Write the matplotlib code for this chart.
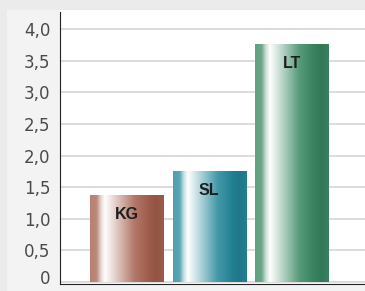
import matplotlib.pyplot as plt
import matplotlib.transforms as mtransforms
import numpy as np
from matplotlib.colors import LinearSegmentedColormap, to_rgb
from matplotlib.patches import Rectangle

categories = ["KG", "SL", "LT"]
values = [1.37, 1.75, 3.76]
base_colors = ["#a5604f", "#24879a", "#3a8963"]
tick_values = [0, 0.5, 1.0, 1.5, 2.0, 2.5, 3.0, 3.5, 4.0]
tick_labels = ["0", "0,5", "1,0", "1,5", "2,0", "2,5", "3,0", "3,5", "4,0"]


def bar_cmap(color):
    base = np.array(to_rgb(color))
    white = np.array([1.0, 1.0, 1.0])
    stops = [
        (0.0, base * 0.8 + white * 0.2),
        (0.09, base * 0.75 + white * 0.25),
        (0.14, base * 0.3 + white * 0.7),
        (0.2, white),
        (0.32, base * 0.25 + white * 0.75),
        (0.6, base * 0.85 + white * 0.15),
        (0.8, base * 0.95),
        (0.9, base * 0.88),
        (1.0, base * 0.95),
    ]
    return LinearSegmentedColormap.from_list("bar", [(p, tuple(c)) for p, c in stops])


fig = plt.figure(figsize=(3.65, 2.91), dpi=100)
fig.patch.set_facecolor("#ebebeb")
fig.patches.append(Rectangle((7 / 365, 0), 1, 281 / 291, transform=fig.transFigure,
                             facecolor="#f3f3f3", edgecolor="none", zorder=-10))

ax = fig.add_axes([60 / 365, 7 / 291, 305 / 365, 274 / 291])
ax.set_zorder(1)
ax.set_facecolor("white")

x = np.arange(len(categories))
bars = ax.bar(x, values, width=0.885, color="none", zorder=2)

grad = np.linspace(0, 1, 256).reshape(1, -1)
for bar, color, label in zip(bars, base_colors, categories):
    x0, w, h = bar.get_x(), bar.get_width(), bar.get_height()
    ax.imshow(grad, cmap=bar_cmap(color), aspect="auto", extent=[x0, x0 + w, 0, h],
              zorder=2, interpolation="bicubic")
    ax.text(x0 + w / 2, h - 0.3, label, ha="center", va="center", fontsize=11.5,
            fontweight="bold", family="Liberation Sans", color="#1e1e1e", zorder=3)

ax.set_xlim(-0.806, 2.89)
ax.set_ylim(-0.03, 4.3)
ax.set_yticks(tick_values)
ax.set_yticklabels(tick_labels)
ax.set_xticks([])
ax.tick_params(axis="y", length=0, pad=7, labelsize=12, labelcolor="#4a4a4a")
ax.yaxis.grid(True, color="#d9d9d9", linewidth=1.3, zorder=0)
ax.set_axisbelow(True)
# the zero label sits a little above the axis line in the original
zero_label = ax.get_yticklabels()[0]
zero_label.set_transform(zero_label.get_transform()
                         + mtransforms.ScaledTranslation(0, 0.05, fig.dpi_scale_trans))

for side in ["top", "right"]:
    ax.spines[side].set_visible(False)
ax.spines["left"].set_color("#222222")
ax.spines["bottom"].set_color("#222222")
ax.spines["left"].set_bounds(-0.03, 4.27)

fig.savefig("out.png", dpi=100, facecolor=fig.get_facecolor())
